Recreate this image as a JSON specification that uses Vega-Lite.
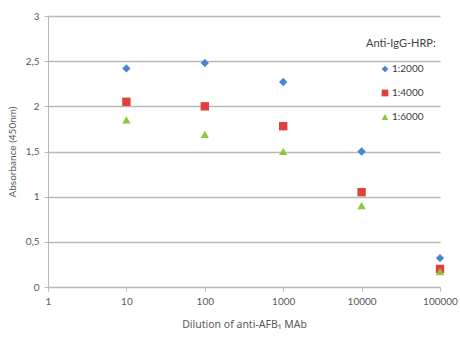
{
  "$schema": "https://vega.github.io/schema/vega-lite/v6.json",
  "width": 392,
  "height": 271,
  "autosize": "none",
  "padding": {"left": 48, "top": 16, "right": 20, "bottom": 50},
  "background": "white",
  "config": {
    "font": "Lato",
    "view": {"stroke": null},
    "axis": {"labelColor": "#595959", "titleColor": "#595959", "labelFont": "Lato", "titleFont": "Lato", "titleFontWeight": "normal", "labelFontSize": 10, "titleFontSize": 11, "domainColor": "#b8b8b8", "tickColor": "#b8b8b8", "gridColor": "#b8b8b8", "gridWidth": 1.4}
  },
  "data": {"values": [
    {"dilution": 10, "abs": 2.42, "ratio": "1:2000"},
    {"dilution": 100, "abs": 2.48, "ratio": "1:2000"},
    {"dilution": 1000, "abs": 2.27, "ratio": "1:2000"},
    {"dilution": 10000, "abs": 1.5, "ratio": "1:2000"},
    {"dilution": 100000, "abs": 0.32, "ratio": "1:2000"},
    {"dilution": 10, "abs": 2.05, "ratio": "1:4000"},
    {"dilution": 100, "abs": 2.0, "ratio": "1:4000"},
    {"dilution": 1000, "abs": 1.78, "ratio": "1:4000"},
    {"dilution": 10000, "abs": 1.05, "ratio": "1:4000"},
    {"dilution": 100000, "abs": 0.2, "ratio": "1:4000"},
    {"dilution": 10, "abs": 1.85, "ratio": "1:6000"},
    {"dilution": 100, "abs": 1.69, "ratio": "1:6000"},
    {"dilution": 1000, "abs": 1.5, "ratio": "1:6000"},
    {"dilution": 10000, "abs": 0.9, "ratio": "1:6000"},
    {"dilution": 100000, "abs": 0.17, "ratio": "1:6000"}
  ]},
  "mark": {"type": "point", "filled": true, "opacity": 1},
  "encoding": {
    "x": {
      "field": "dilution", "type": "quantitative",
      "scale": {"type": "log", "domain": [1, 100000], "nice": false},
      "axis": {"title": "Dilution of anti-AFB₁ MAb", "titleFont": "Noto Sans", "titleFontSize": 10.5, "values": [1, 10, 100, 1000, 10000, 100000], "format": "d", "grid": false, "tickSize": 4, "labelPadding": 5, "titlePadding": 13, "labelFlush": false}
    },
    "y": {
      "field": "abs", "type": "quantitative",
      "scale": {"domain": [0, 3], "nice": false},
      "axis": {"title": "Absorbance (450nm)", "values": [0, 0.5, 1, 1.5, 2, 2.5, 3], "labelExpr": "replace(toString(datum.value), '.', ',')", "tickSize": 4, "labelPadding": 5, "titlePadding": 8, "titleFontSize": 10}
    },
    "color": {
      "field": "ratio", "type": "nominal",
      "scale": {"domain": ["1:2000", "1:4000", "1:6000"], "range": ["#4a86d0", "#e0403a", "#8dc63f"]},
      "legend": {"title": "Anti-IgG-HRP:", "orient": "none", "legendX": 318, "legendY": 22, "titleFontSize": 11, "titleFontWeight": "normal", "titleColor": "#404040", "labelColor": "#404040", "labelFontSize": 10, "symbolSize": 45, "rowPadding": 14, "titlePadding": 15, "symbolOffset": 14, "labelOffset": 2}
    },
    "shape": {
      "field": "ratio", "type": "nominal",
      "scale": {"domain": ["1:2000", "1:4000", "1:6000"], "range": ["diamond", "square", "triangle-up"]}
    },
    "size": {"value": 70}
  }
}
